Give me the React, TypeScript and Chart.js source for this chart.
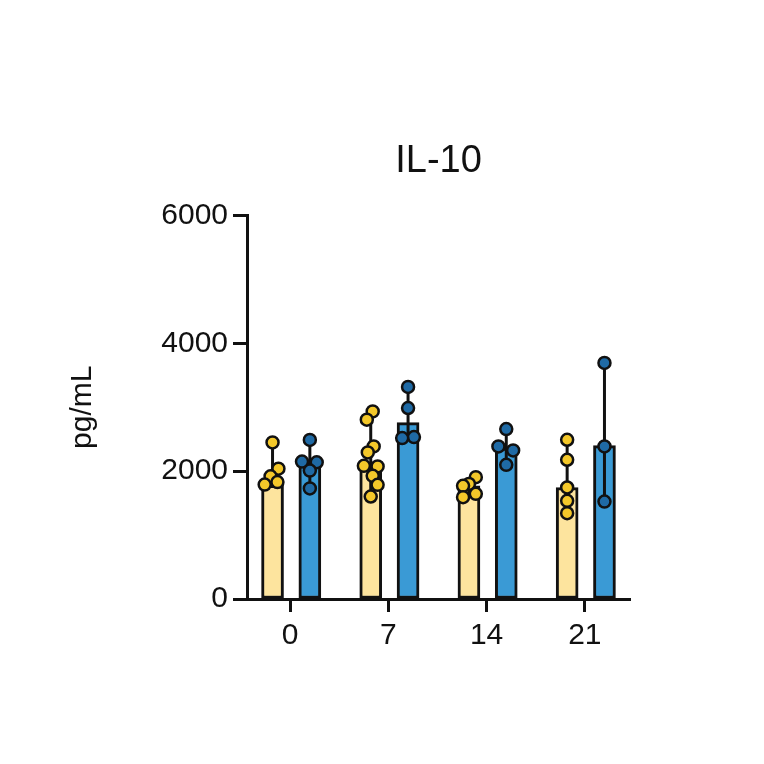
import { useEffect, useRef } from "react"
import { Chart, registerables } from "chart.js"

// Register Chart.js components
Chart.register(...registerables)

const days = ["0", "7", "14", "21"]

// bar heights (median)
const yellowMedian = [1780, 2080, 1770, 1745]
const blueMedian = [2150, 2760, 2360, 2400]

// individual dots per day
const yellowPoints = [
  [2450, 2040, 1920, 1830, 1790],
  [2936, 2806, 2387, 2293, 2085, 2074, 1928, 1787, 1604],
  [1907, 1800, 1771, 1646, 1594],
  [2492, 2179, 1745, 1536, 1343],
]
const bluePoints = [
  [2490, 2150, 2140, 2010, 1730],
  [3318, 2989, 2534, 2518],
  [2659, 2387, 2325, 2100],
  [3694, 2387, 1525],
]

// sideways spread of the dots, in day units
const yellowJitter = [
  [0, 0.06, -0.02, 0.05, -0.08],
  [0.02, -0.04, 0.03, -0.03, -0.07, 0.07, 0.02, 0.07, 0],
  [0.07, 0, -0.06, 0.07, -0.06],
  [0, 0, 0, 0, 0],
]
const blueJitter = [
  [0, -0.08, 0.07, 0, 0],
  [0, 0, 0.06, -0.06],
  [0, -0.08, 0.07, 0],
  [0, 0, 0],
]

const YELLOW_SHIFT = -0.18
const BLUE_SHIFT = 0.2
const INK = "#111111"

// min-max line through each bar, drawn right after its bar dataset
const rangeBars = {
  id: "rangeBars",
  afterDatasetDraw(chart: any, args: any) {
    const ds = chart.data.datasets[args.index]
    if (!ds.ranges) return
    const { ctx, scales } = chart
    ctx.save()
    ctx.strokeStyle = INK
    ctx.lineWidth = 3
    ds.data.forEach((pt: { x: number }, i: number) => {
      const [lo, hi] = ds.ranges[i]
      const px = scales.x.getPixelForValue(pt.x)
      ctx.beginPath()
      ctx.moveTo(px, scales.y.getPixelForValue(lo))
      ctx.lineTo(px, scales.y.getPixelForValue(hi))
      ctx.stroke()
    })
    ctx.restore()
  },
}

function dots(points: number[][], jitter: number[][], shift: number) {
  return points.flatMap((vals, i) => vals.map((v, j) => ({ x: i + shift + jitter[i][j], y: v })))
}

function ranges(points: number[][]) {
  return points.map((vals) => [Math.min(...vals), Math.max(...vals)])
}

export default function App() {
  const chartRef = useRef<HTMLCanvasElement>(null)
  const chartInstance = useRef<Chart | null>(null)

  useEffect(() => {
    if (!chartRef.current) return
    if (chartInstance.current) chartInstance.current.destroy()
    const ctx = chartRef.current.getContext("2d")
    if (!ctx) return

    Chart.defaults.font.family = "'Liberation Sans', Arial, sans-serif"
    Chart.defaults.color = INK

    chartInstance.current = new Chart(ctx, {
      type: "bar",
      data: {
        datasets: [
          {
            type: "scatter",
            data: dots(yellowPoints, yellowJitter, YELLOW_SHIFT),
            backgroundColor: "#F4C82A",
            borderColor: INK,
            borderWidth: 2.5,
            pointRadius: 6,
            order: 1,
          },
          {
            type: "scatter",
            data: dots(bluePoints, blueJitter, BLUE_SHIFT),
            backgroundColor: "#1F6AA5",
            borderColor: INK,
            borderWidth: 2.5,
            pointRadius: 6,
            order: 1,
          },
          {
            type: "bar",
            data: yellowMedian.map((v, i) => ({ x: i + YELLOW_SHIFT, y: v })),
            ranges: ranges(yellowPoints),
            backgroundColor: "#FDE49E",
            borderColor: INK,
            borderWidth: 3,
            borderSkipped: false,
            barThickness: 22,
            grouped: false,
            order: 2,
          },
          {
            type: "bar",
            data: blueMedian.map((v, i) => ({ x: i + BLUE_SHIFT, y: v })),
            ranges: ranges(bluePoints),
            backgroundColor: "#3A9AD5",
            borderColor: INK,
            borderWidth: 3,
            borderSkipped: false,
            barThickness: 22,
            grouped: false,
            order: 2,
          },
        ] as any,
      },
      options: {
        animation: false,
        responsive: true,
        maintainAspectRatio: false,
        layout: { padding: { left: 0, right: 134, top: 0, bottom: 0 } },
        plugins: {
          legend: { display: false },
          tooltip: { enabled: false },
          title: {
            display: true,
            text: "IL-10",
            fullSize: false,
            color: INK,
            font: { size: 38, weight: "normal" },
            padding: { top: 139, bottom: 31 },
          },
        },
        scales: {
          x: {
            type: "linear",
            min: -0.44,
            max: 3.46,
            offset: false,
            afterBuildTicks: (scale: any) => {
              scale.ticks = days.map((_, i) => ({ value: i }))
            },
            afterFit: (scale: any) => {
              scale.height = 165
            },
            ticks: {
              callback: (value: any) => days[value as number],
              font: { size: 30 },
              color: INK,
              padding: 6,
              maxRotation: 0,
            },
            grid: {
              offset: false,
              drawOnChartArea: false,
              drawTicks: true,
              tickLength: 13,
              tickWidth: 3,
              tickColor: INK,
            },
            border: { display: true, color: INK, width: 3 },
          },
          y: {
            min: 0,
            max: 6000,
            afterFit: (scale: any) => {
              scale.width = 247
            },
            ticks: {
              stepSize: 2000,
              callback: (value: any) => String(value),
              font: { size: 30 },
              color: INK,
              padding: 5,
            },
            grid: {
              drawOnChartArea: false,
              drawTicks: true,
              tickLength: 14,
              tickWidth: 3,
              tickColor: INK,
            },
            border: { display: true, color: INK, width: 3 },
            title: {
              display: true,
              text: "pg/mL",
              color: INK,
              font: { size: 30 },
              padding: { top: 65, bottom: 0 },
            },
          },
        },
      },
      plugins: [rangeBars],
    })

    return () => {
      if (chartInstance.current) {
        chartInstance.current.destroy()
        chartInstance.current = null
      }
    }
  }, [])

  return (
    <div style={{ position: "absolute", left: 0, top: 0, width: 764, height: 764, background: "#fff" }}>
      <canvas ref={chartRef} />
    </div>
  )
}
